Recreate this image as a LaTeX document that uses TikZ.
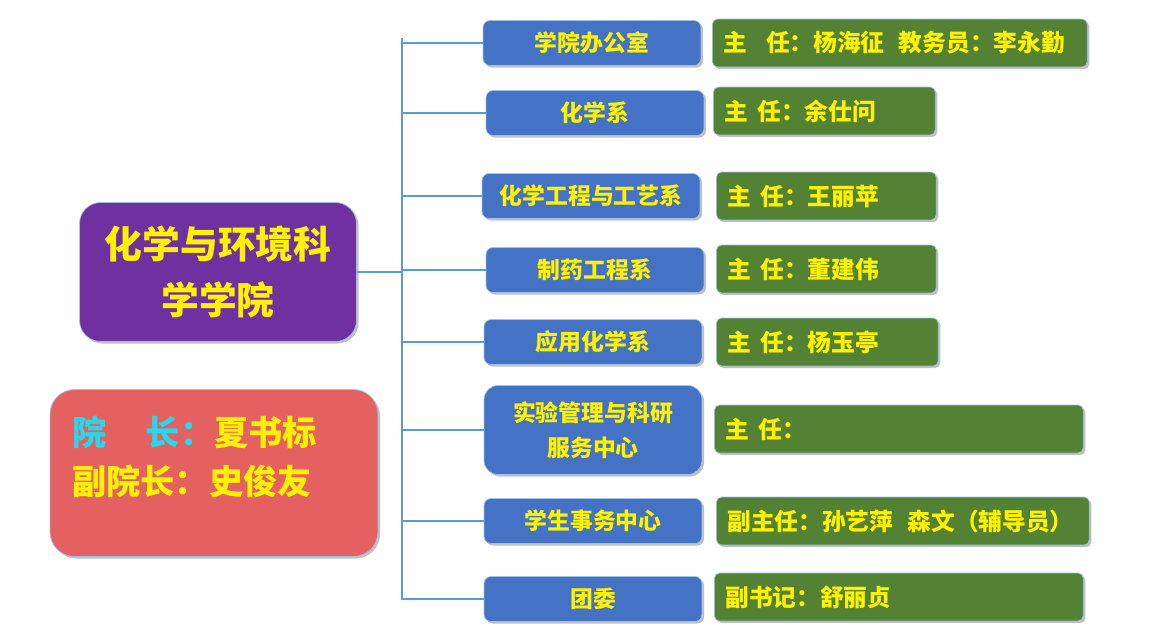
\documentclass[tikz,border=0pt]{standalone}
\usepackage{fontspec}
\setmainfont{Noto Sans CJK SC}
\usetikzlibrary{shadows}
\definecolor{deptblue}{RGB}{68,114,196}
\definecolor{headgreen}{RGB}{84,130,53}
\definecolor{collegepurple}{RGB}{112,48,160}
\definecolor{deanred}{RGB}{229,96,96}
\definecolor{linkblue}{RGB}{91,155,213}
\definecolor{deancyan}{RGB}{40,215,235}
\begin{document}
\begin{tikzpicture}[x=0.02cm, y=-0.02cm,
	box/.style={rounded corners=4pt, draw=linkblue!60, line width=0.4pt, text=yellow, font=\bfseries,
		drop shadow={shadow xshift=1.2pt, shadow yshift=-1.2pt, opacity=.35, fill=black!70}},
	deptbox/.style={box, fill=deptblue, minimum width=4.36cm, minimum height=0.9cm, font=\bfseries\fontsize{13}{15}\selectfont, align=center},
	headbox/.style={box, fill=headgreen, anchor=west, text width=#1, inner xsep=0.22cm, minimum height=0.96cm, align=left, font=\bfseries\fontsize{13.5}{15}\selectfont, rounded corners=3pt},
	link/.style={draw=linkblue, line width=0.7pt}]
	\useasboundingbox (0,0) rectangle (1152,636);
	% college and deans
	\node[box, fill=collegepurple, rounded corners=12pt, minimum width=5.54cm, minimum height=2.78cm, align=center,
		font=\bfseries\fontsize{21.5}{32}\selectfont] (college) at (218,272) {化学与环境科\\学学院};
	\node[box, fill=deanred, rounded corners=14pt, minimum width=6.56cm, minimum height=3.34cm] (dean) at (214,473) {};
	\node[anchor=west, text=yellow, align=left, font=\bfseries\fontsize{19.5}{28}\selectfont] (deantext) at (66,457)
		{\textcolor{deancyan}{院\hspace{1.15em}长：}夏书标\\副院长：史俊友};
	% trunk
	\coordinate (top) at (402,38);
	\coordinate (bot) at (402,600);
	\draw[link] (top) -- (bot);
	\draw[link] (college.east) -- (college.east -| top);
	% departments
	\node[deptbox] (office) at (592,43) {学院办公室};
	\node[deptbox] (chem) at (595,113) {化学系};
	\node[deptbox] (cheng) at (591,196) {化学工程与工艺系};
	\node[deptbox] (pharm) at (595,270) {制药工程系};
	\node[deptbox] (appl) at (593,342) {应用化学系};
	\node[deptbox, minimum height=1.78cm, rounded corners=8pt, font=\bfseries\fontsize{13}{20}\selectfont] (lab) at (593,430) {实验管理与科研\\服务中心};
	\node[deptbox] (stud) at (593,521) {学生事务中心};
	\node[deptbox] (league) at (593,599) {团委};
	\foreach \d in {office,chem,cheng,pharm,appl,lab,stud,league}
		\draw[link] (\d.west) -- (\d.west -| top);
	% heads
	\node[headbox=7.06cm] (officeh) at (712,43) {主\hspace{0.8em}任：杨海征\hspace{0.6em}教务员：李永勤};
	\node[headbox=4.0cm] (chemh) at (713,111) {主\hspace{0.4em}任：余仕问};
	\node[headbox=3.96cm] (chengh) at (716,196) {主\hspace{0.4em}任：王丽苹};
	\node[headbox=3.96cm] (pharmh) at (716,269) {主\hspace{0.4em}任：董建伟};
	\node[headbox=4.0cm] (applh) at (716,342) {主\hspace{0.4em}任：杨玉亭};
	\node[headbox=6.94cm] (labh) at (714,429) {主\hspace{0.4em}任：};
	\node[headbox=7.02cm] (studh) at (716,521) {副主任：孙艺萍\hspace{0.6em}森文（辅导员）};
	\node[headbox=6.94cm] (leagueh) at (714,597) {副书记：舒丽贞};
\end{tikzpicture}
\end{document}
